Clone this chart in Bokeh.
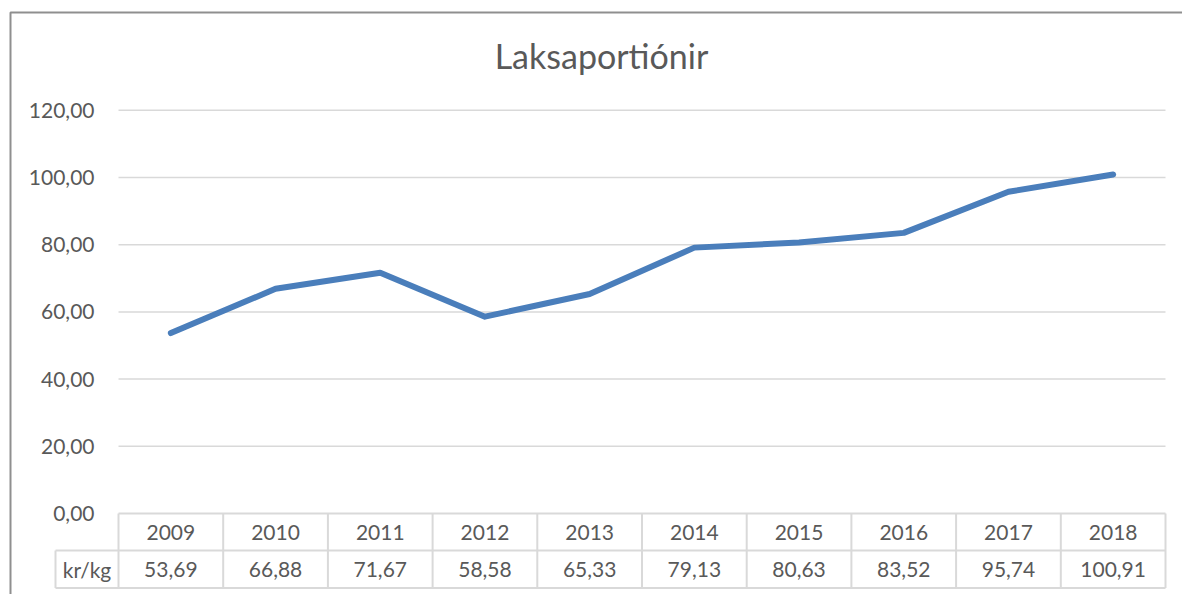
from bokeh.plotting import figure
from bokeh.models import LinearAxis, FixedTicker, CustomJSTickFormatter, Label, Range1d
from bokeh.core.properties import value
from bokeh.embed import file_html
from bokeh.resources import INLINE

# ---- data ----
title_text = "Laksaportiónir"
years = [2009, 2010, 2011, 2012, 2013, 2014, 2015, 2016, 2017, 2018]
values = [53.69, 66.88, 71.67, 58.58, 65.33, 79.13, 80.63, 83.52, 95.74, 100.91]
y_ticks = [0, 20, 40, 60, 80, 100, 120]
row_label = "kr/kg"

# ---- layout constants (pixels in the 1182x594 window) ----
W, H = 1182, 594
OFF = 0
COL_W = 104.7
PLOT_L = 118.0
PX_PER_UNIT = 3.36
ZERO_Y = 513.0
TEXT = "#595959"
FONT = "Lato"
FS = "21px"

x0_center = PLOT_L + COL_W / 2


def px_x(px):
    return years[0] + (px - x0_center) / COL_W


def px_y(py):
    return (ZERO_Y - py) / PX_PER_UNIT


p = figure(width=W, height=H, output_backend="svg", toolbar_location=None,
           x_range=Range1d(px_x(OFF), px_x(OFF + W)),
           y_range=Range1d(px_y(OFF + H), px_y(OFF)),
           x_axis_type=None, y_axis_type=None,
           min_border=0, min_border_left=0, min_border_right=0,
           min_border_top=0, min_border_bottom=0)
p.outline_line_color = None
p.xgrid.visible = False
p.ygrid.visible = False
p.background_fill_color = "white"
p.border_fill_color = "white"

# chart border (left and top visible)
p.line([px_x(10), px_x(10), px_x(OFF + W + 5)], [px_y(OFF + H + 5), px_y(12), px_y(12)],
       line_color="#8f8f8f", line_width=2)

# y axis
yax = LinearAxis(fixed_location=px_x(PLOT_L),
                 ticker=FixedTicker(ticks=y_ticks),
                 formatter=CustomJSTickFormatter(code="return tick.toFixed(2).replace('.', ',')"))
yax.axis_line_color = None
yax.major_tick_line_color = None
yax.minor_tick_line_color = None
yax.major_label_standoff = 18
yax.major_label_text_font = FONT
yax.major_label_text_font_size = FS
yax.major_label_text_color = TEXT
p.add_layout(yax, "left")

# gridlines
left_edge = years[0] - 0.5
right_edge = years[-1] + 0.5
gy = [t for t in y_ticks if t != 0]
p.segment(x0=[left_edge] * len(gy), y0=gy, x1=[right_edge] * len(gy), y1=gy,
          line_color="#d9d9d9", line_width=1.5)

# data table
row1_bot = px_y(550)
row2_bot = px_y(587.5)
label_left = px_x(55)
hx0 = [left_edge, label_left, label_left]
hx1 = [right_edge, right_edge, right_edge]
hy = [0, row1_bot, row2_bot]
p.segment(x0=hx0, y0=hy, x1=hx1, y1=hy, line_color="#d9d9d9", line_width=2)
edges = [y - 0.5 for y in years] + [years[-1] + 0.5]
p.segment(x0=edges, y0=[0] * len(edges), x1=edges, y1=[row2_bot] * len(edges),
          line_color="#d9d9d9", line_width=2)
p.segment(x0=[label_left], y0=[row1_bot], x1=[label_left], y1=[row2_bot],
          line_color="#d9d9d9", line_width=2)

r1c = row1_bot / 2
r2c = (row1_bot + row2_bot) / 2
p.text(x=years, y=[r1c] * len(years), text=[str(y) for y in years],
       text_align="center", text_baseline="middle", text_font=value(FONT),
       text_font_size=FS, text_color=TEXT)
p.text(x=years, y=[r2c] * len(years), text=[f"{v:.2f}".replace(".", ",") for v in values],
       text_align="center", text_baseline="middle", text_font=value(FONT),
       text_font_size=FS, text_color=TEXT)
p.text(x=[(label_left + left_edge) / 2], y=[r2c], text=[row_label],
       text_align="center", text_baseline="middle", text_font=value(FONT),
       text_font_size=FS, text_color=TEXT)

# series line
p.line(years, values, line_color="#4a7ebb", line_width=6, line_cap="round", line_join="round")

# title
p.add_layout(Label(x=px_x(601), y=px_y(55), text=title_text, text_align="center",
                   text_baseline="middle", text_font=FONT, text_font_size="34px",
                   text_color=TEXT))

open("out.html", "w").write(file_html(p, INLINE))
